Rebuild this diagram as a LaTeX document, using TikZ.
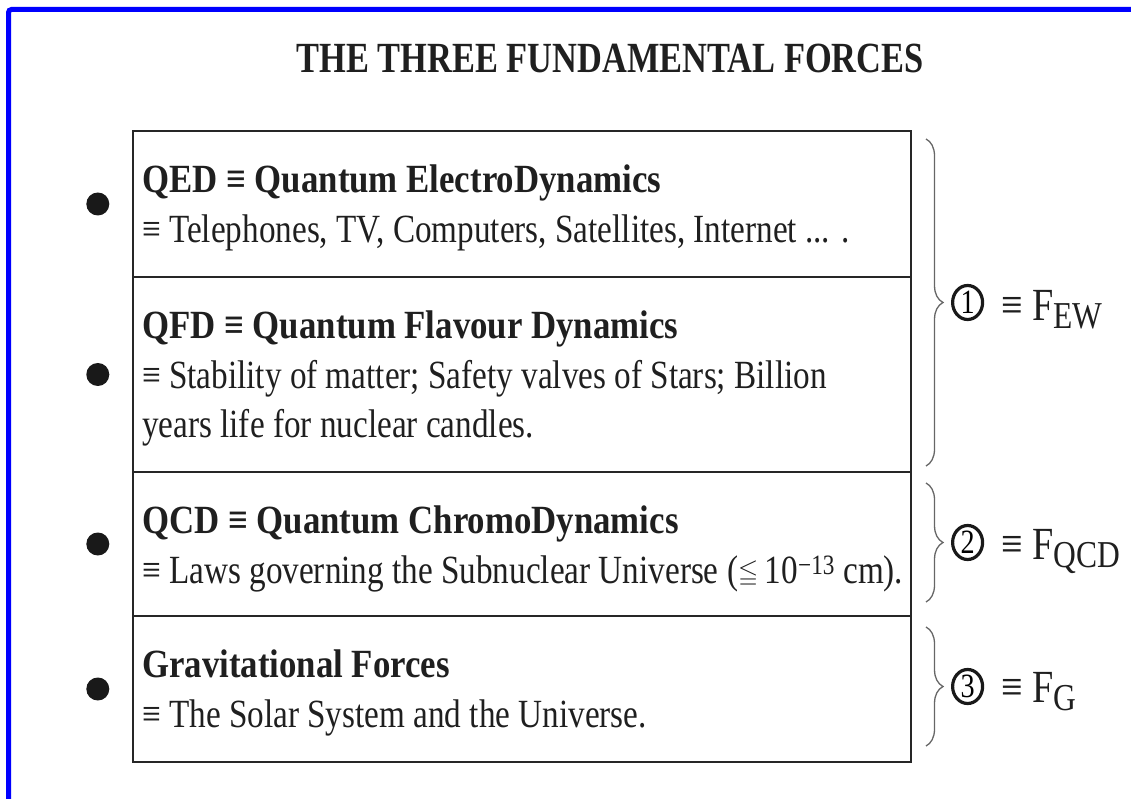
\documentclass[tikz,border=0pt]{standalone}
\usepackage{amssymb}
\usepackage{fontspec}
\setmainfont[FakeStretch=0.83, BoldFeatures={FakeStretch=0.87}]{Liberation Serif}
\newfontfamily\titlefont[FakeStretch=0.8]{Liberation Serif}
\usetikzlibrary{positioning, decorations.pathreplacing, shapes.geometric}

\begin{document}
\begin{tikzpicture}[
  x=1pt, y=1pt,
  rowbox/.style={rectangle, draw=black!85, line width=2.5pt, minimum width=778pt,
                 outer sep=0pt, inner sep=0pt},
  rowtext/.style={anchor=north west, align=left, inner sep=0pt, text=black!88,
                  font=\fontsize{40}{49.5}\selectfont},
  dot/.style={circle, fill=black!90, minimum size=23pt, inner sep=0pt},
  fbrace/.style={decorate, decoration={brace, amplitude=17pt}, draw=black!60, line width=1.3pt},
  numcirc/.style={ellipse, draw=black!90, line width=3.2pt, minimum width=30pt,
                  minimum height=34pt, inner sep=0pt, font=\fontsize{34}{34}\selectfont},
  force/.style={anchor=base west, inner sep=0pt, text=black!88, font=\fontsize{46}{46}\selectfont}
]
\useasboundingbox (0,0) rectangle (1131,798);
\draw[blue, line width=5pt, rounded corners=3pt] (8.5,-20) -- (8.5,788.5) -- (1160,788.5);

\node[anchor=base, inner sep=0pt, text=black!88,
      font=\titlefont\bfseries\fontsize{43}{43}\selectfont] (title) at (610,725)
      {THE THREE FUNDAMENTAL FORCES};

\node[rowbox, minimum height=146pt] (qedbox) at (522,594) {};
\node[rowbox, minimum height=195pt, below=0pt of qedbox] (qfdbox) {};
\node[rowbox, minimum height=144pt, below=0pt of qfdbox] (qcdbox) {};
\node[rowbox, minimum height=146pt, below=0pt of qcdbox] (gravbox) {};

\node[rowtext] (qedtext) at ([xshift=9pt,yshift=-31.5pt]qedbox.north west)
  {\rule{0pt}{30pt}\textbf{QED ≡ Quantum ElectroDynamics}\\
   ≡ Telephones, TV, Computers, Satellites, Internet ... .};
\node[rowtext] (qfdtext) at ([xshift=9pt,yshift=-31.5pt]qfdbox.north west)
  {\rule{0pt}{30pt}\textbf{QFD ≡ Quantum Flavour Dynamics}\\
   ≡ Stability of matter; Safety valves of Stars; Billion\\
   years life for nuclear candles.};
\node[rowtext] (qcdtext) at ([xshift=9pt,yshift=-31.5pt]qcdbox.north west)
  {\rule{0pt}{30pt}\textbf{QCD ≡ Quantum ChromoDynamics}\\
   ≡ Laws governing the Subnuclear Universe (\raisebox{3pt}{\fontsize{26}{26}\selectfont$\leqq$}\,10\textsuperscript{−13} cm).};
\node[rowtext] (gravtext) at ([xshift=9pt,yshift=-31.5pt]gravbox.north west)
  {\rule{0pt}{30pt}\textbf{Gravitational Forces}\\
   ≡ The Solar System and the Universe.};

\node[dot, left=23.5pt of qedbox] (qeddot) {};
\node[dot, left=23.5pt of qfdbox] (qfddot) {};
\node[dot, left=23.5pt of qcdbox] (qcddot) {};
\node[dot, left=23.5pt of gravbox] (gravdot) {};

\draw[fbrace] ([xshift=15pt,yshift=-8pt]qedbox.north east)
  -- ([xshift=15pt,yshift=6pt]qfdbox.south east) coordinate[midway] (ewmid);
\draw[fbrace] ([xshift=15pt,yshift=-11pt]qcdbox.north east)
  -- ([xshift=15pt,yshift=14pt]qcdbox.south east) coordinate[midway] (qcdmid);
\draw[fbrace] ([xshift=15pt,yshift=-11pt]gravbox.north east)
  -- ([xshift=15pt,yshift=16pt]gravbox.south east) coordinate[midway] (gmid);

\node[numcirc, right=25pt of ewmid] (one) {1};
\node[numcirc, right=25pt of qcdmid] (two) {2};
\node[numcirc, right=25pt of gmid] (three) {3};

\node[force] (ewforce) at ([xshift=17pt,yshift=-18pt]one.east)
  {≡ F\raisebox{-8pt}{\fontsize{38}{38}\selectfont EW}};
\node[force] (qcdforce) at ([xshift=17pt,yshift=-17pt]two.east)
  {≡ F\raisebox{-8pt}{\fontsize{38}{38}\selectfont QCD}};
\node[force] (gforce) at ([xshift=17pt,yshift=-16pt]three.east)
  {≡ F\raisebox{-8pt}{\fontsize{38}{38}\selectfont G}};

\end{tikzpicture}
\end{document}
